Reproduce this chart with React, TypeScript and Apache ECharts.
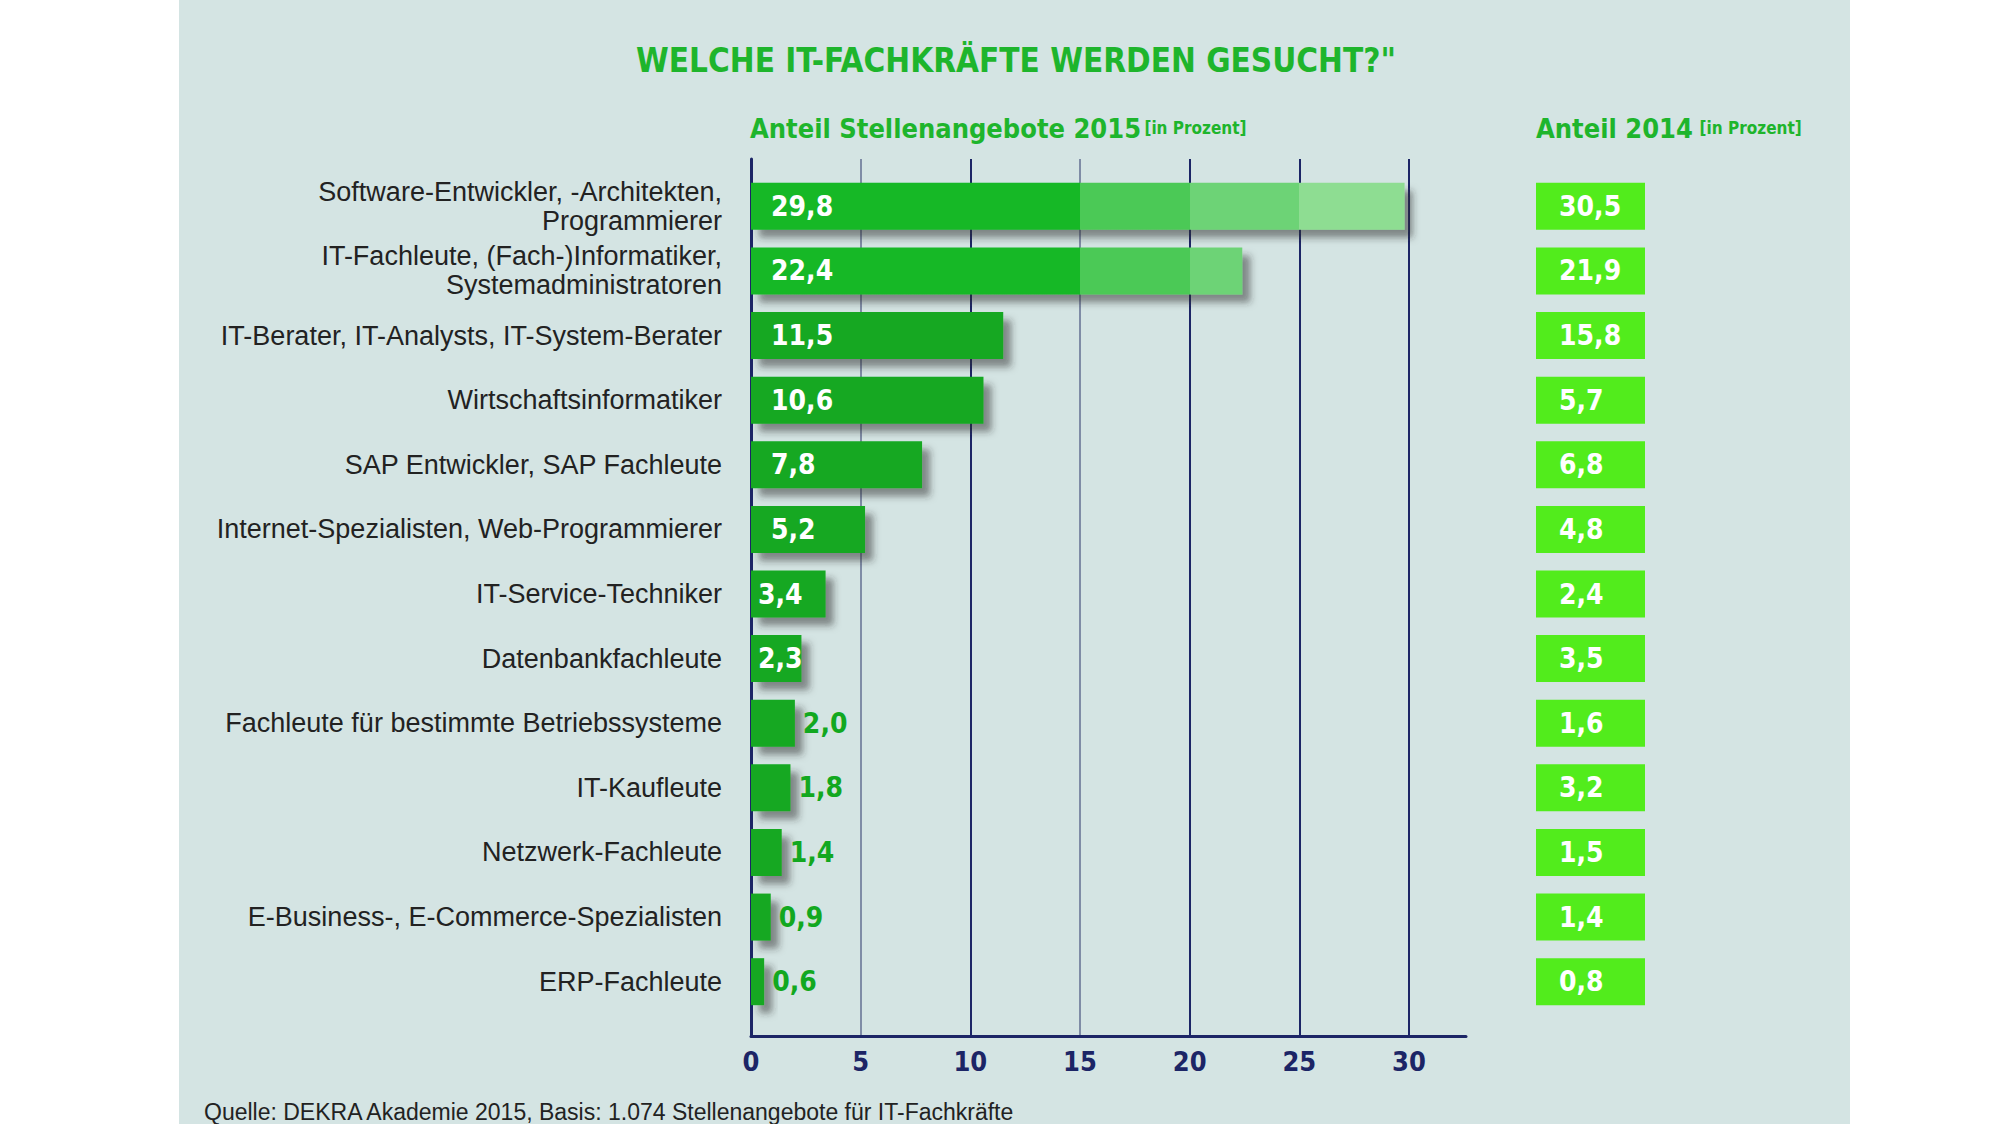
import React, { useEffect, useRef } from 'react';
import * as echarts from 'echarts';

const categories = [
  'Software-Entwickler, -Architekten,\nProgrammierer',
  'IT-Fachleute, (Fach-)Informatiker,\nSystemadministratoren',
  'IT-Berater, IT-Analysts, IT-System-Berater',
  'Wirtschaftsinformatiker',
  'SAP Entwickler, SAP Fachleute',
  'Internet-Spezialisten, Web-Programmierer',
  'IT-Service-Techniker',
  'Datenbankfachleute',
  'Fachleute für bestimmte Betriebssysteme',
  'IT-Kaufleute',
  'Netzwerk-Fachleute',
  'E-Business-, E-Commerce-Spezialisten',
  'ERP-Fachleute',
];
const share2015 = [29.8, 22.4, 11.5, 10.6, 7.8, 5.2, 3.4, 2.3, 2.0, 1.8, 1.4, 0.9, 0.6];
const share2014 = [30.5, 21.9, 15.8, 5.7, 6.8, 4.8, 2.4, 3.5, 1.6, 3.2, 1.5, 1.4, 0.8];
const tickStep = 5;
const axisMax = 32.6;
const fadeSteps = [15, 20, 25];

const TITLE = 'WELCHE IT-FACHKRÄFTE WERDEN GESUCHT?"';
const SUB2015 = 'Anteil Stellenangebote 2015';
const SUB2014 = 'Anteil 2014';
const UNIT = '[in Prozent]';
const SOURCE = 'Quelle: DEKRA Akademie 2015, Basis: 1.074 Stellenangebote für IT-Fachkräfte';

const NARROW = "'Liberation Sans Narrow', 'DejaVu Sans Condensed', 'Liberation Sans', sans-serif";
const SANS = "'Liberation Sans', 'DejaVu Sans', sans-serif";
const GREEN = '#12a820';
const TITLE_GREEN = '#1eb52c';
const NAVY = '#1c2566';
const LIGHT_LINE = '#7f8ca6';
const LIME = '#52ec1c';
const PANEL = '#d4e4e3';
const FADE = ['#15b828', '#4cc957', '#6dd376', '#8edd92'];

const fmt = (v: number) => v.toFixed(1).replace('.', ',');

const GRID_LEFT = 751;
const GRID_RIGHT = 534;
const BOX_X = 1536;
const BOX_W = 109;

function barColor(v: number) {
  if (v <= fadeSteps[0]) return GREEN;
  const stops: { offset: number; color: string }[] = [];
  let start = 0;
  for (let k = 0; k <= fadeSteps.length; k++) {
    const end = k < fadeSteps.length ? Math.min(fadeSteps[k] / v, 1) : 1;
    if (start >= 1) break;
    stops.push({ offset: start, color: FADE[k] });
    stops.push({ offset: end, color: FADE[k] });
    start = end;
  }
  return new echarts.graphic.LinearGradient(0, 0, 1, 0, stops);
}

export default function App() {
  const ref = useRef<HTMLDivElement>(null);
  useEffect(() => {
    if (!ref.current) return;
    const chart = echarts.init(ref.current, undefined, { renderer: 'svg' });
    const splitColors = [NAVY, LIGHT_LINE, NAVY, LIGHT_LINE, NAVY, NAVY, NAVY, NAVY];
    const richSub = {
      a: { fill: TITLE_GREEN, color: TITLE_GREEN, fontFamily: NARROW, fontWeight: 'bold', fontSize: 27 },
      b: { fill: TITLE_GREEN, color: TITLE_GREEN, fontFamily: NARROW, fontWeight: 'bold', fontSize: 17 },
    };
    chart.setOption({
      animation: false,
      backgroundColor: '#ffffff',
      grid: [
        { left: GRID_LEFT, right: GRID_RIGHT, top: 159, bottom: 88 },
        { left: GRID_LEFT, right: GRID_RIGHT, top: 174, bottom: 110 },
      ],
      xAxis: [
        {
          type: 'value', gridIndex: 0, min: 0, max: axisMax, interval: tickStep,
          axisLine: { show: true, lineStyle: { color: NAVY, width: 3 } },
          axisTick: { show: false },
          axisLabel: {
            color: NAVY, fontFamily: NARROW, fontWeight: 'bold', fontSize: 27, margin: 12,
            showMaxLabel: false,
            formatter: (v: number) => (v % tickStep === 0 ? String(v) : ''),
          },
          splitLine: { show: true, showMinLine: true, showMaxLine: false, lineStyle: { color: splitColors, width: 2 } },
        },
        { type: 'value', gridIndex: 1, min: 0, max: axisMax, show: false },
      ],
      yAxis: [
        {
          type: 'value', gridIndex: 0, min: 0, max: 1,
          axisLine: { show: true, lineStyle: { color: NAVY, width: 3 } },
          axisTick: { show: false }, axisLabel: { show: false }, splitLine: { show: false },
        },
        {
          type: 'category', gridIndex: 1, inverse: true, data: categories,
          axisLine: { show: false }, axisTick: { show: false },
          axisLabel: {
            color: '#222222', fontFamily: SANS, fontSize: 27, margin: 29, lineHeight: 29, align: 'right',
          },
        },
      ],
      graphic: [
        { type: 'rect', z: -10, shape: { x: 179, y: 0, width: 1671, height: 1124 }, style: { fill: PANEL } },
        {
          type: 'text', x: 1016, y: 60,
          style: { text: TITLE, fill: TITLE_GREEN, font: `bold 33px ${NARROW}`, align: 'center', verticalAlign: 'middle', textAlign: 'center', textVerticalAlign: 'middle' },
        },
        {
          type: 'text', x: 750, y: 128,
          style: { text: `{a|${SUB2015}} {b|${UNIT}}`, verticalAlign: 'middle', textVerticalAlign: 'middle', rich: richSub },
        },
        {
          type: 'text', x: 1536, y: 128,
          style: { text: `{a|${SUB2014}}  {b|${UNIT}}`, verticalAlign: 'middle', textVerticalAlign: 'middle', rich: richSub },
        },
        {
          type: 'text', x: 204, y: 1112,
          style: { text: SOURCE, fill: '#222222', font: `23px ${SANS}`, verticalAlign: 'middle', textVerticalAlign: 'middle' },
        },
      ],
      series: [
        {
          type: 'bar', xAxisIndex: 1, yAxisIndex: 1, barWidth: 47,
          data: share2015.map((v) => {
            const inside = v > 2.1;
            return {
              value: v,
              itemStyle: { color: barColor(v) },
              label: inside
                ? { show: true, position: 'insideLeft', distance: v < 5 ? 7 : 20, color: '#ffffff' }
                : { show: true, position: 'right', distance: 8, color: GREEN },
            };
          }),
          itemStyle: { shadowBlur: 7, shadowColor: 'rgba(40,40,40,0.5)', shadowOffsetX: 8, shadowOffsetY: 8 },
          label: {
            show: true, fontFamily: NARROW, fontWeight: 'bold', fontSize: 28,
            formatter: (p: any) => fmt(p.value),
          },
        },
        {
          type: 'custom', xAxisIndex: 1, yAxisIndex: 1, clip: false,
          data: share2014.map((v, i) => [v, i]),
          encode: { x: 0, y: 1 },
          renderItem: (params: any, api: any) => {
            const y = api.coord([0, api.value(1)])[1];
            const h = 47;
            return {
              type: 'group',
              children: [
                { type: 'rect', shape: { x: BOX_X, y: y - h / 2, width: BOX_W, height: h }, style: { fill: LIME } },
                {
                  type: 'text', x: BOX_X + 23, y,
                  style: {
                    text: fmt(api.value(0)), fill: '#ffffff', fontFamily: NARROW, fontWeight: 'bold', fontSize: 28,
                    align: 'left', verticalAlign: 'middle', textAlign: 'left', textVerticalAlign: 'middle',
                  },
                },
              ],
            };
          },
        },
      ],
    });
    return () => chart.dispose();
  }, []);
  return <div ref={ref} style={{ position: 'fixed', left: 0, top: 0, width: 2000, height: 1124 }} />;
}
